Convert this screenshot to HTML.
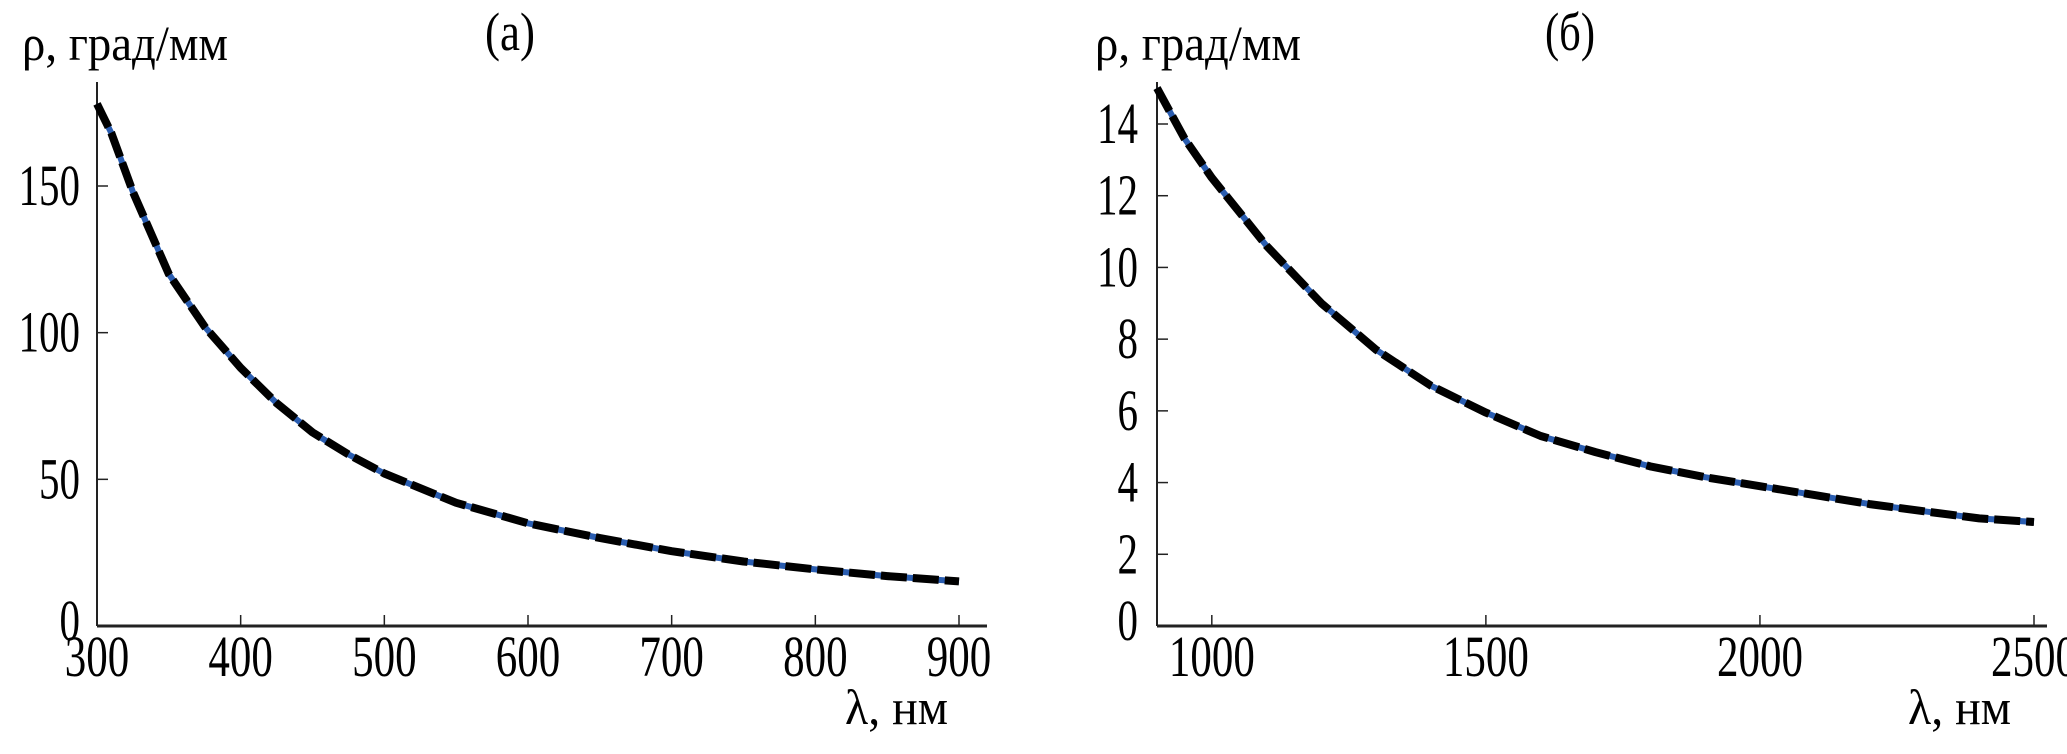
<!DOCTYPE html>
<html><head><meta charset="utf-8"><style>
html,body{margin:0;padding:0;background:#fff;}
svg{display:block;font-family:"Liberation Serif",serif;}
</style></head><body>
<svg id="chart" width="2067" height="754" viewBox="0 0 2067 754" xmlns="http://www.w3.org/2000/svg"></svg>
<script>
const aLambda=[300,310,325,350,375,400,425,450,475,500,550,600,650,700,750,800,850,900];
const aRho=[178,168,148,120,102,88,76,66,58.5,52,42,35,30,25.5,22,19.3,17,15.2];
const aXTicks=[300,400,500,600,700,800,900];
const aYTicks=[0,50,100,150];
const bLambda=[900,950,1000,1100,1200,1300,1400,1500,1600,1700,1800,1900,2000,2100,2200,2300,2400,2500];
const bRho=[15,13.6,12.5,10.6,9.0,7.7,6.7,5.95,5.3,4.85,4.45,4.15,3.9,3.65,3.4,3.2,3.0,2.9];
const bXTicks=[1000,1500,2000,2500];
const bYTicks=[0,2,4,6,8,10,12,14];

const NS="http://www.w3.org/2000/svg";
const svg=document.getElementById('chart');
function el(tag,attrs,parent){const e=document.createElementNS(NS,tag);for(const k in attrs)e.setAttribute(k,attrs[k]);(parent||svg).appendChild(e);return e;}

function panel(o){
  const g=el('g',{});
  
  
  const sx=v=>o.x0+(v-o.xmin)/(o.xmax-o.xmin)*(o.x1-o.x0);
  const sy=v=>o.y0-(v-o.ymin)/(o.ymax-o.ymin)*(o.y0-o.y1);
  const ya=el('line',{x1:o.axX,y1:o.axTop,x2:o.axX,y2:o.y0,stroke:'#222','stroke-width':2},g);
  
  const xa=el('line',{x1:o.axX,y1:o.y0,x2:o.axEnd,y2:o.y0,stroke:'#222','stroke-width':3},g);
  
  o.xt.forEach(v=>{
    const t=el('line',{x1:sx(v),y1:o.y0,x2:sx(v),y2:o.y0-11,stroke:'#222','stroke-width':1.5},g);
    
    const s=String(v);
    const tx=el('text',{x:sx(v),y:o.y0+50,'text-anchor':'middle','font-size':58,textLength:s.length*21.5,lengthAdjust:'spacingAndGlyphs',fill:'#000'},g);
    tx.textContent=s;
    
  });
  o.yt.forEach(v=>{
    if(v!==0){const t=el('line',{x1:o.axX,y1:sy(v),x2:o.axX+11,y2:sy(v),stroke:'#222','stroke-width':1.5},g);
    }
    const s=String(v);
    const tx=el('text',{x:o.labR,y:sy(v)+(v===0?14:19),'text-anchor':'end','font-size':58,textLength:s.length*20.5,lengthAdjust:'spacingAndGlyphs',fill:'#000'},g);
    tx.textContent=s;
    
  });
  const pts=o.xs.map((x,i)=>sx(x).toFixed(1)+','+sy(o.ys[i]).toFixed(1)).join(' ');
  const bl=el('polyline',{points:pts,fill:'none',stroke:'#2a5db0','stroke-width':6,'stroke-linejoin':'round'},g);
  
  const dl=el('polyline',{points:pts,fill:'none',stroke:'#000','stroke-width':8,'stroke-dasharray':'26 6','stroke-linejoin':'round'},g);
  
  const yl=el('text',{x:o.ylx,y:60,'font-size':50,textLength:206,lengthAdjust:'spacingAndGlyphs',fill:'#000'},g);
  yl.textContent='ρ, град/мм';
  
  const xl=el('text',{x:o.xlx,y:724,'font-size':50,textLength:103,lengthAdjust:'spacingAndGlyphs',fill:'#000'},g);
  xl.textContent='λ, нм';
  
  const tt=el('text',{x:o.tx,y:50,'text-anchor':'middle','font-size':54,textLength:50,lengthAdjust:'spacingAndGlyphs',fill:'#000'},g);
  tt.textContent=o.title;
  
}
panel({name:'panel-a',xs:aLambda,ys:aRho,xt:aXTicks,yt:aYTicks,xmin:300,xmax:900,x0:97,x1:959,ymin:0,ymax:150,y0:626,y1:186,
  axX:97,axTop:82,axEnd:987,labR:80,ylx:22,xlx:845,tx:510,title:'(a)'});
panel({name:'panel-b',xs:bLambda,ys:bRho,xt:bXTicks,yt:bYTicks,xmin:900,xmax:2500,x0:1157,x1:2034,ymin:0,ymax:14,y0:626,y1:124,
  axX:1157,axTop:82,axEnd:2047,labR:1138,ylx:1095,xlx:1908,tx:1570,title:'(б)'});
</script>
</body></html>
